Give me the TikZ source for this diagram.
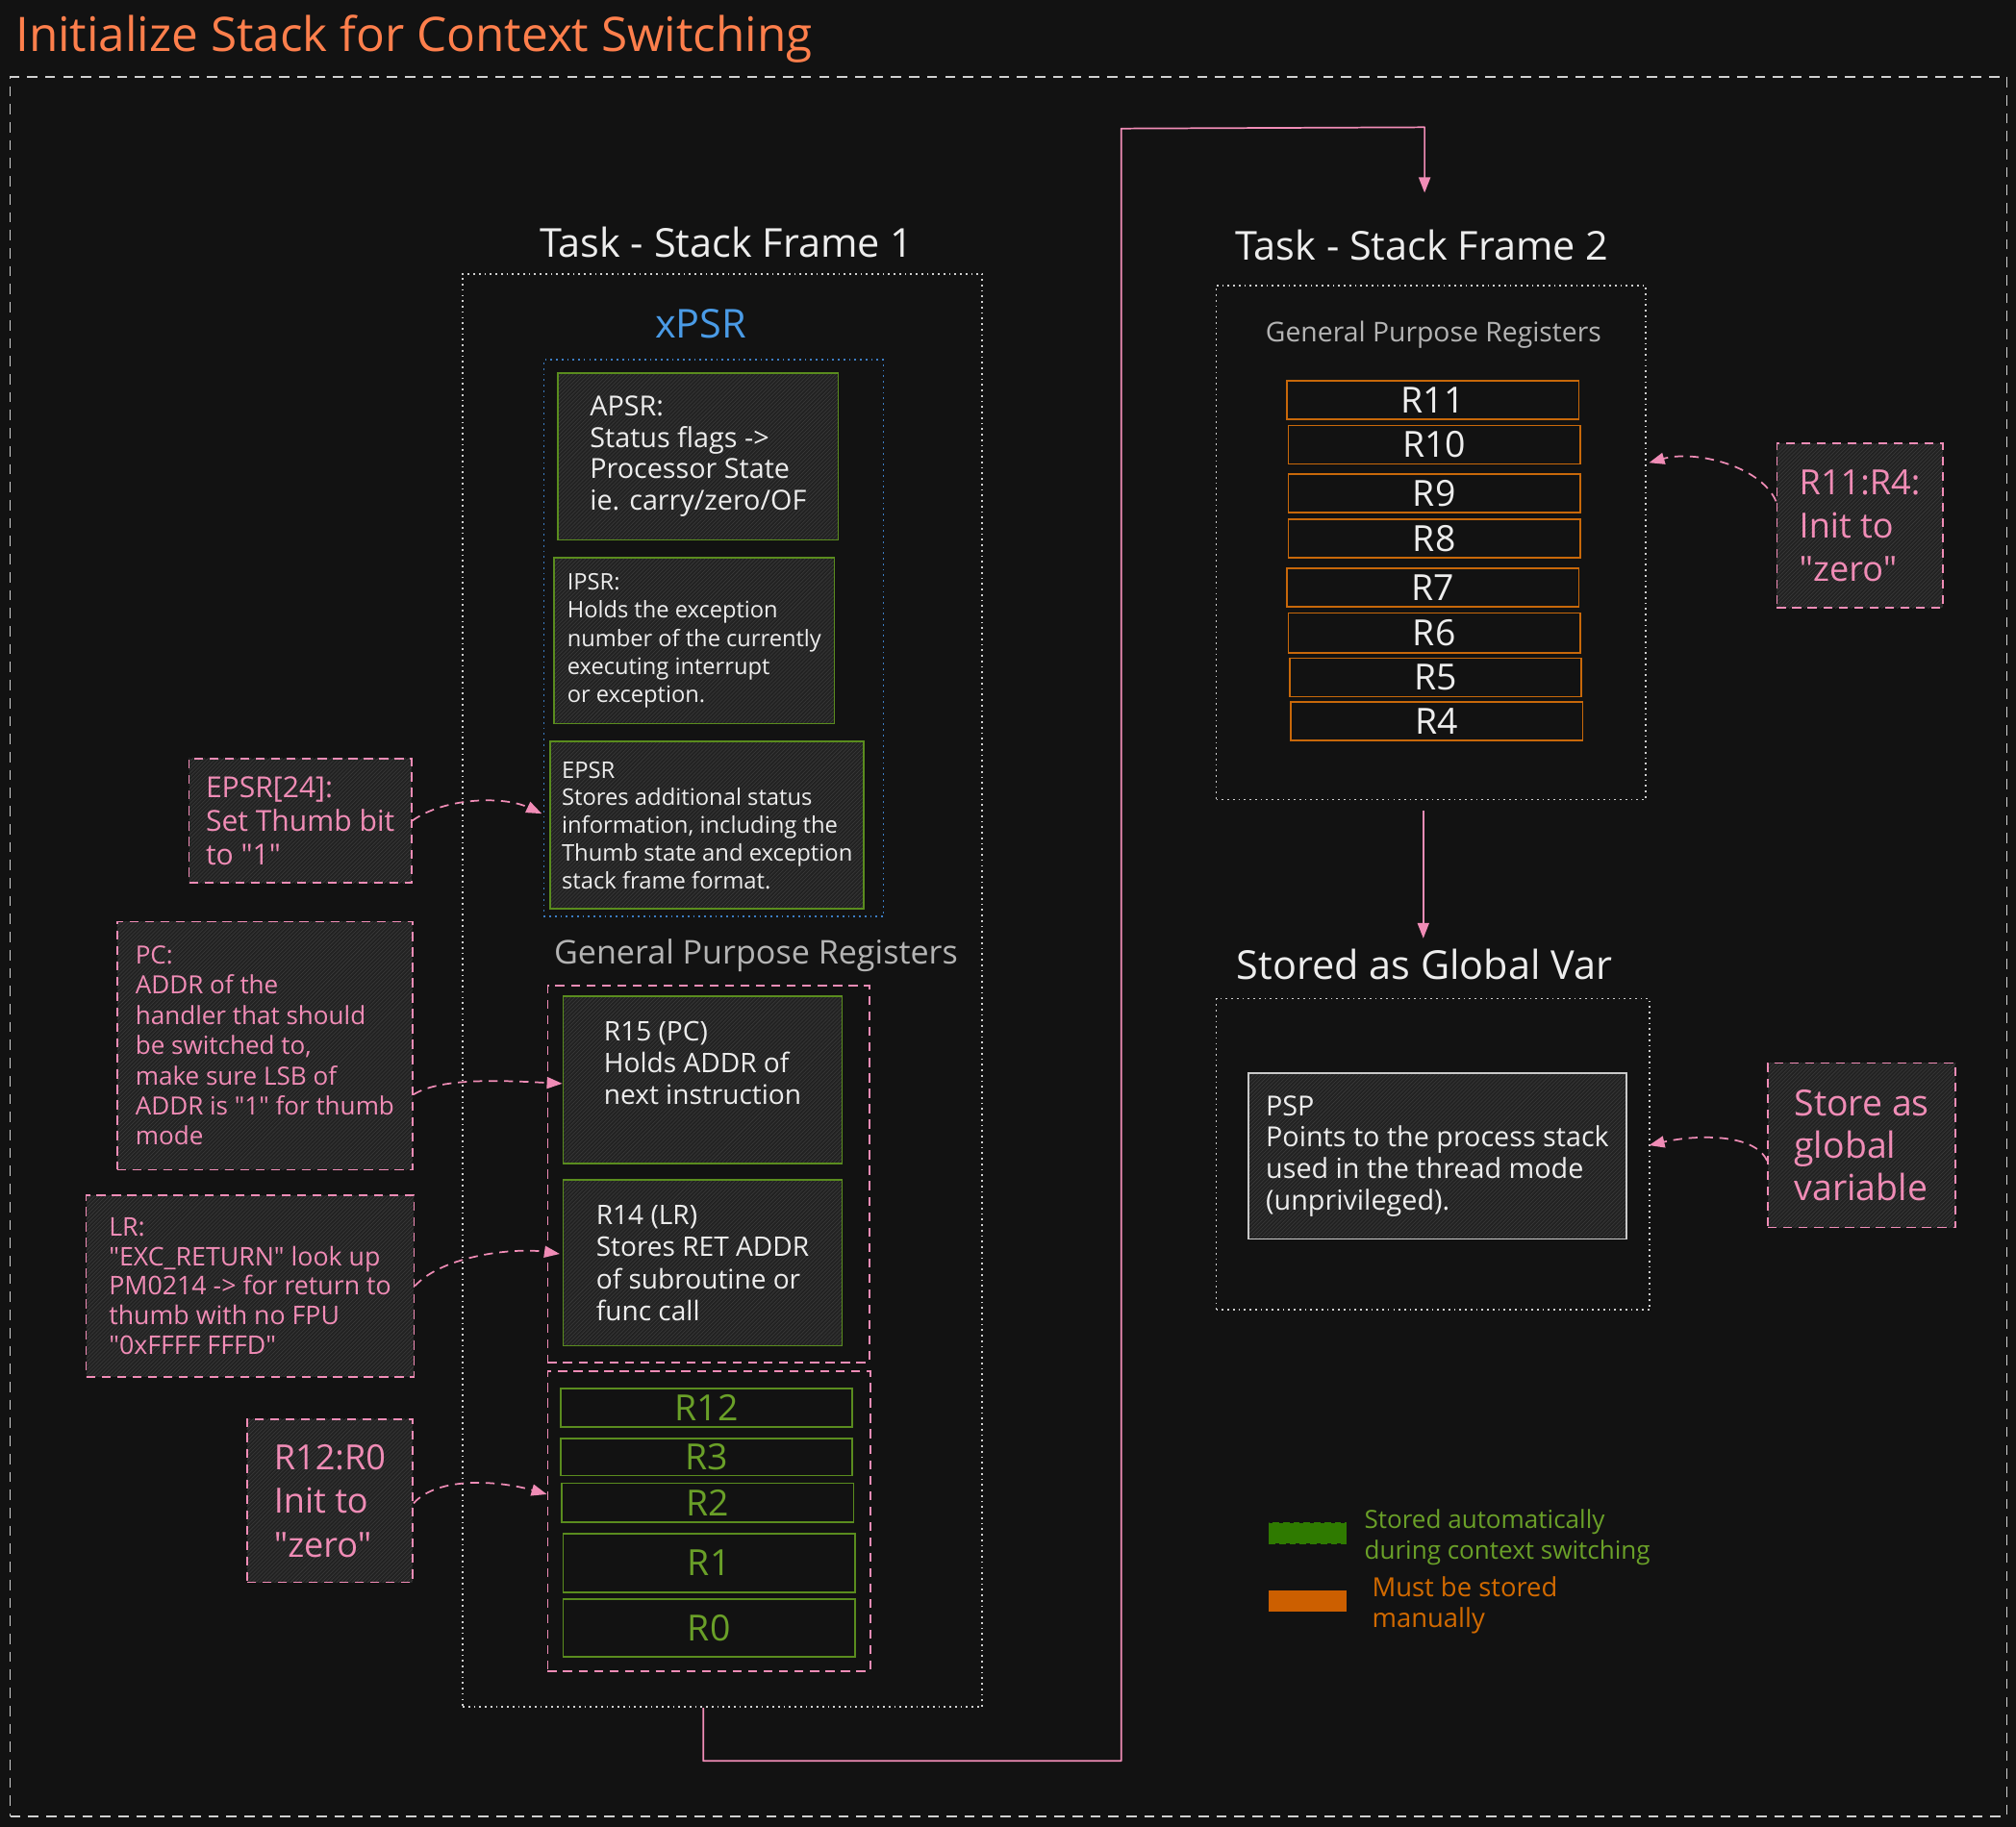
\documentclass[tikz,border=0pt]{standalone}
\usepackage{fontspec}
\setmainfont{Open Sans}[Ligatures=TeXOff]
\usetikzlibrary{patterns,arrows.meta}
\definecolor{bgc}{HTML}{121212}
\definecolor{titlec}{HTML}{FF7F4C}
\definecolor{pinkc}{HTML}{F08CB6}
\definecolor{grnc}{HTML}{5A8C1E}
\definecolor{grntx}{HTML}{6AA028}
\definecolor{legg}{HTML}{2F7A00}
\definecolor{orgc}{HTML}{C8680A}
\definecolor{legor}{HTML}{CC5F00}
\definecolor{orgtx}{HTML}{D26A00}
\definecolor{bluec}{HTML}{4A9BE6}
\definecolor{blueb}{HTML}{3C7DC4}
\definecolor{grayc}{HTML}{B4B4B4}
\definecolor{whc}{HTML}{EDEDED}
\definecolor{framec}{HTML}{D0D0D0}
\definecolor{hatchbg}{HTML}{222222}
\definecolor{hatchln}{HTML}{3C3C3C}
\newcommand\myfs[2]{\fontsize{#1pt}{#2pt}\selectfont}
\begin{document}
\begin{tikzpicture}[x=1pt,y=-1pt,
  hatch/.style={preaction={fill=hatchbg},pattern=north east lines,pattern color=hatchln},
  outerbox/.style={draw=framec,line width=1.2pt,dash pattern=on 8pt off 6pt,inner sep=0pt},
  dotbox/.style={draw=framec,line width=1.2pt,dash pattern=on 1.3pt off 3pt,inner sep=0pt},
  bluebox/.style={draw=blueb,line width=1.2pt,dash pattern=on 1.3pt off 3pt,inner sep=0pt},
  pinkbox/.style={draw=pinkc,line width=1.3pt,dash pattern=on 7pt off 5pt,inner sep=0pt},
  gbox/.style={hatch,draw=grnc,line width=1.3pt,text=whc,align=left,inner sep=0pt},
  wbox/.style={hatch,draw=whc!85!black,line width=1.3pt,text=whc,align=left,inner sep=0pt},
  note/.style={hatch,draw=pinkc,line width=1.3pt,dash pattern=on 7pt off 5pt,text=pinkc,align=left,inner sep=0pt},
  greg/.style={draw=grnc,line width=1.3pt,text=grntx,inner sep=0pt,font=\myfs{28}{30}},
  oreg/.style={draw=orgc,line width=1.3pt,text=whc,inner sep=0pt,font=\myfs{28}{30}},
  heading/.style={text=whc,anchor=base,inner sep=0pt,font=\myfs{31}{34}},
  sublabel/.style={text=grayc,anchor=base,inner sep=0pt},
  conn/.style={draw=pinkc,line width=1.3pt,-{Triangle[length=12pt,width=9pt]}},
  nconn/.style={draw=pinkc,line width=1.3pt,dash pattern=on 7pt off 5pt,-{Triangle[length=12pt,width=9pt]}},
]
\fill[bgc] (0,0) rectangle (1568,1421);
\useasboundingbox (0,0) rectangle (1568,1421);

% title and outer frame
\node[text=titlec,anchor=base west,inner sep=0pt,font=\myfs{37}{40}] (title) at (12,40) {Initialize Stack for Context Switching};
\node[outerbox,minimum width=1553pt,minimum height=1353pt] (outer) at (784.5,736.5) {};

% ---------- Task stack frame 1
\node[heading] (t1) at (565,200) {Task - Stack Frame 1};
\node[dotbox,minimum width=404pt,minimum height=1115pt] (f1) at (562,770.5) {};
\node[text=bluec,anchor=base,inner sep=0pt,font=\myfs{31}{34}] (xpsrl) at (545,263) {xPSR};
\node[bluebox,minimum width=264pt,minimum height=433pt] (xpsr) at (555,496.5) {};
\node[gbox,minimum width=218pt,minimum height=130pt,font=\myfs{21.5}{24.5}] (apsr) at (543,355) {APSR:\\Status flags ->\\Processor State\\ie. carry/zero/OF};
\node[gbox,minimum width=218pt,minimum height=129pt,font=\myfs{17.7}{22}] (ipsr) at (540,498.5) {IPSR:\\Holds the exception\\number of the currently\\executing interrupt\\or exception.};
\node[gbox,minimum width=244pt,minimum height=130pt,font=\myfs{17.8}{21.5}] (epsr) at (550,642) {EPSR\\Stores additional status\\information, including the\\Thumb state and exception\\stack frame format.};

\node[sublabel,font=\myfs{25.5}{28}] (gpr1) at (588,750) {General Purpose Registers};
\node[pinkbox,minimum width=250pt,minimum height=293pt] (gp1) at (551,913.5) {};
\node[gbox,minimum width=217pt,minimum height=130pt,font=\myfs{21}{24.5}] (r15) at (546.5,840) {R15 (PC)\\Holds ADDR of\\next instruction\\[2pt]};
\node[gbox,minimum width=217pt,minimum height=129pt,font=\myfs{21}{25}] (r14) at (546.5,982.5) {R14 (LR)\\Stores RET ADDR\\of subroutine or\\func call};

\node[pinkbox,minimum width=251pt,minimum height=233pt] (gp2) at (551.5,1183.5) {};
\node[greg,minimum width=227pt,minimum height=30pt] (r12) at (549.5,1095) {R12};
\node[greg,minimum width=227pt,minimum height=29pt] (r3) at (549.5,1133.5) {R3};
\node[greg,minimum width=227pt,minimum height=30pt] (r2) at (550.5,1169) {R2};
\node[greg,minimum width=227pt,minimum height=46pt] (r1) at (551.5,1216) {R1};
\node[greg,minimum width=227pt,minimum height=45pt] (r0) at (551.5,1266.5) {R0};

% ---------- notes on the left
\node[note,minimum width=173pt,minimum height=97pt,font=\myfs{22.5}{26}] (epsrnote) at (233.5,638.5) {EPSR[24]:\\Set Thumb bit\\to "1"};
\node[note,minimum width=230pt,minimum height=193pt,font=\myfs{19.5}{23.5}] (pcnote) at (206,813.5) {PC:\\ADDR of the\\handler that should\\be switched to,\\make sure LSB of\\ADDR is "1" for thumb\\mode};
\node[note,minimum width=255pt,minimum height=141pt,font=\myfs{20}{23}] (lrnote) at (194.5,1000.5) {LR:\\"EXC\_RETURN" look up\\PM0214 -> for return to\\thumb with no FPU\\"0xFFFF FFFD"};
\node[note,minimum width=129pt,minimum height=127pt,font=\myfs{27}{34}] (r12note) at (256.5,1167.5) {R12:R0\\Init to\\"zero"};

\draw[nconn] (epsrnote.east) .. controls +(25,-18) and +(-30,-14) .. ([xshift=-6pt,yshift=9pt]epsr.west);
\draw[nconn] ([yshift=-38pt]pcnote.east) .. controls +(22,-14) and +(-40,-2) .. ([yshift=-3pt]r15.west);
\draw[nconn] (lrnote.east) .. controls +(22,-24) and +(-35,-5) .. ([xshift=-2pt,yshift=7pt]r14.west);
\draw[nconn] ([yshift=-2pt]r12note.east) .. controls +(20,-22) and +(-35,-10) .. ([yshift=21pt]gp2.west);

% ---------- Task stack frame 2
\node[heading] (t2) at (1106,202) {Task - Stack Frame 2};
\node[dotbox,minimum width=334pt,minimum height=400pt] (f2) at (1113,422) {};
\node[sublabel,font=\myfs{21.2}{24}] (gpr2) at (1115,266) {General Purpose Registers};
\node[oreg,minimum width=227pt,minimum height=30pt] (r11) at (1114.5,311) {R11};
\node[oreg,minimum width=227pt,minimum height=30pt] (r10) at (1115.5,346) {R10};
\node[oreg,minimum width=227pt,minimum height=30pt] (r9) at (1115.5,384) {R9};
\node[oreg,minimum width=227pt,minimum height=30pt] (r8) at (1115.5,419) {R8};
\node[oreg,minimum width=227pt,minimum height=30pt] (r7) at (1114.5,457) {R7};
\node[oreg,minimum width=227pt,minimum height=31pt] (r6) at (1115.5,492.5) {R6};
\node[oreg,minimum width=227pt,minimum height=30pt] (r5) at (1116.5,527) {R5};
\node[oreg,minimum width=227pt,minimum height=30pt] (r4) at (1117.5,561) {R4};

\node[note,minimum width=129pt,minimum height=128pt,font=\myfs{27}{34}] (r11note) at (1446.5,409) {R11:R4:\\Init to\\"zero"};
\draw[nconn] ([yshift=19pt]r11note.west) .. controls +(-12,-28) and +(35,-10) .. ([xshift=2pt,yshift=62pt]f2.east);

% ---------- global var
\node[heading] (gtitle) at (1108,762) {Stored as Global Var};
\node[dotbox,minimum width=337pt,minimum height=242pt] (gframe) at (1114.5,898) {};
\node[wbox,minimum width=294pt,minimum height=129pt,font=\myfs{21.5}{24.5}] (psp) at (1118,899.5) {PSP\\Points to the process stack\\used in the thread mode\\(unprivileged).};
\node[note,minimum width=146pt,minimum height=128pt,font=\myfs{28}{33}] (storenote) at (1448,891) {Store as\\global\\variable};
\draw[nconn] ([yshift=-12pt]storenote.west) .. controls +(-10,-22) and +(35,-8) .. ([xshift=-1pt,yshift=7pt]gframe.east);

% ---------- connectors between frames
\coordinate (t2in) at (1108,150);
\coordinate (gin) at (1107,730);
\draw[conn,line join=round] ([xshift=-15pt]f1.south) -- (547,1370) -- (872,1370) -- (872,100) -- (1108,99) -- (t2in);
\draw[conn] (gin |- f2.south) ++(0,8) -- (gin);

% ---------- legend
\node[draw=legg,fill=legg,line width=1pt,dash pattern=on 5pt off 3pt,minimum width=60pt,minimum height=16pt,inner sep=0pt] (legA) at (1017,1193) {};
\node[anchor=west,text=grntx,align=left,inner sep=0pt,font=\myfs{19.5}{24}] (legAt) at (1061,1196) {Stored automatically\\during context switching};
\node[fill=legor,minimum width=60pt,minimum height=16pt,inner sep=0pt] (legB) at (1017,1245.5) {};
\node[anchor=west,text=orgtx,align=left,inner sep=0pt,font=\myfs{20.5}{24}] (legBt) at (1067,1249) {Must be stored\\manually};
\end{tikzpicture}
\end{document}
